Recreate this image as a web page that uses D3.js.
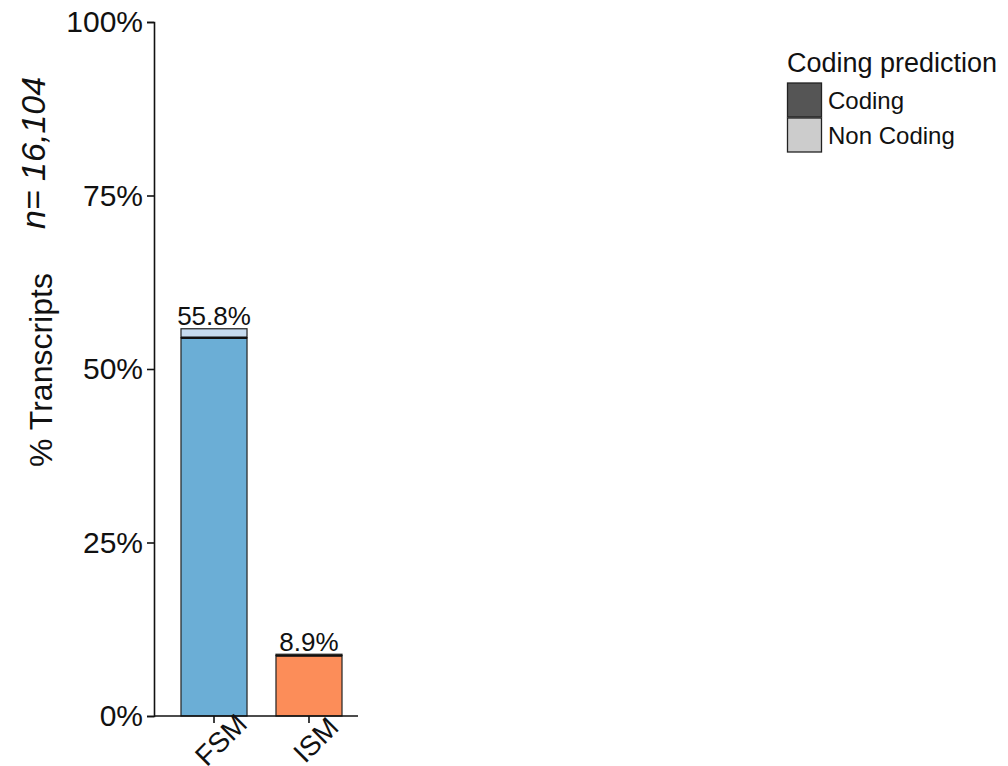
<!DOCTYPE html>
<html>
<head>
<meta charset="utf-8">
<script src="https://cdn.jsdelivr.net/npm/d3@7"></script>
<style>
  body { margin: 0; background: #fff; }
  svg { font-family: "Liberation Sans", Arial, Helvetica, sans-serif; }
</style>
</head>
<body>
<svg id="chart" width="1008" height="766"></svg>
<script>
// Structural categories and coding-prediction split (% of transcripts)
const categories = ["FSM", "ISM"];
const codingPct = [54.5, 8.7];
const nonCodingPct = [1.3, 0.2];
const totalLabels = ["55.8%", "8.9%"];
const codingColors = ["#6BAED6", "#FC8D59"];
const nonCodingColors = ["#C6DBEF", "#FDD0A2"];
const yTicks = [0, 25, 50, 75, 100];
const legendKeys = ["Coding", "Non Coding"];
const legendFills = ["#555555", "#CCCCCC"];
const sampleSize = "n= 16,104";

const FONT = "Liberation Sans, Arial, sans-serif";
const svg = d3.select("#chart");

const y = d3.scaleLinear().domain([0, 100]).range([716, 22]);
const x = d3.scaleBand().domain(categories)
  .range([166.5, 356.5]).paddingInner(0.305).paddingOuter(0.1526);

// Bars: coding segment at the bottom, non-coding stacked on top
const g = svg.append("g");
categories.forEach((c, i) => {
  const x0 = x(c), w = x.bandwidth();
  const top = codingPct[i] + nonCodingPct[i];
  g.append("rect")
    .attr("x", x0).attr("width", w)
    .attr("y", y(top))
    .attr("height", y(codingPct[i]) - y(top))
    .attr("fill", nonCodingColors[i]).attr("stroke", "#222").attr("stroke-width", 1.2);
  g.append("rect")
    .attr("x", x0).attr("width", w)
    .attr("y", y(codingPct[i]))
    .attr("height", y(0) - y(codingPct[i]))
    .attr("fill", codingColors[i]).attr("stroke", "#222").attr("stroke-width", 1.2);
  g.append("line")
    .attr("x1", x0).attr("x2", x0 + w)
    .attr("y1", y(codingPct[i])).attr("y2", y(codingPct[i]))
    .attr("stroke", "#111").attr("stroke-width", 2.4);
  g.append("text")
    .attr("x", x0 + w / 2).attr("y", y(top) - 3.5)
    .attr("text-anchor", "middle").attr("font-size", 26).attr("fill", "#111")
    .text(totalLabels[i]);
});

// Y axis
const yAxis = d3.axisLeft(y).tickValues(yTicks).tickFormat(d => d + "%")
  .tickSizeOuter(0).tickSize(7).tickPadding(4);
const ya = svg.append("g").attr("transform", "translate(154,0)").call(yAxis);
ya.select(".domain").attr("stroke", "#111").attr("stroke-width", 1.6);
ya.selectAll(".tick line").attr("stroke", "#111").attr("stroke-width", 1.6);
ya.selectAll(".tick text").attr("font-size", 30).attr("fill", "#111").attr("font-family", FONT);

// X axis with 45-degree category labels
const xAxis = d3.axisBottom(x).tickSizeOuter(0).tickSize(7);
const xa = svg.append("g").attr("transform", "translate(0,716)").call(xAxis);
xa.select(".domain").attr("d", "M154,0H358").attr("stroke", "#111").attr("stroke-width", 1.6);
xa.selectAll(".tick line").attr("stroke", "#111").attr("stroke-width", 1.6);
xa.selectAll(".tick text")
  .attr("font-size", 28).attr("fill", "#111").attr("font-family", FONT)
  .attr("text-anchor", "middle").attr("dy", null).attr("y", 0)
  .attr("dominant-baseline", "central")
  .attr("transform", "translate(7,24) rotate(-45)");

// Axis titles
svg.append("text")
  .attr("transform", "translate(52,370) rotate(-90)")
  .attr("text-anchor", "middle").attr("font-size", 32).attr("fill", "#111")
  .text("% Transcripts");
svg.append("text")
  .attr("transform", "translate(45,153) rotate(-90)")
  .attr("text-anchor", "middle").attr("font-size", 34).attr("font-style", "italic").attr("fill", "#111")
  .text(sampleSize);

// Legend
const lg = svg.append("g").attr("transform", "translate(787,0)");
lg.append("text").attr("x", 0).attr("y", 72).attr("font-size", 27).attr("fill", "#111").text("Coding prediction");
legendKeys.forEach((k, i) => {
  lg.append("rect").attr("x", 0.5).attr("y", 83 + i * 35).attr("width", 34).attr("height", 34)
    .attr("fill", legendFills[i]).attr("stroke", "#222").attr("stroke-width", 1.3);
  lg.append("text").attr("x", 41).attr("y", 109 + i * 35).attr("font-size", 24).attr("fill", "#111").text(k);
});
</script>
</body>
</html>
